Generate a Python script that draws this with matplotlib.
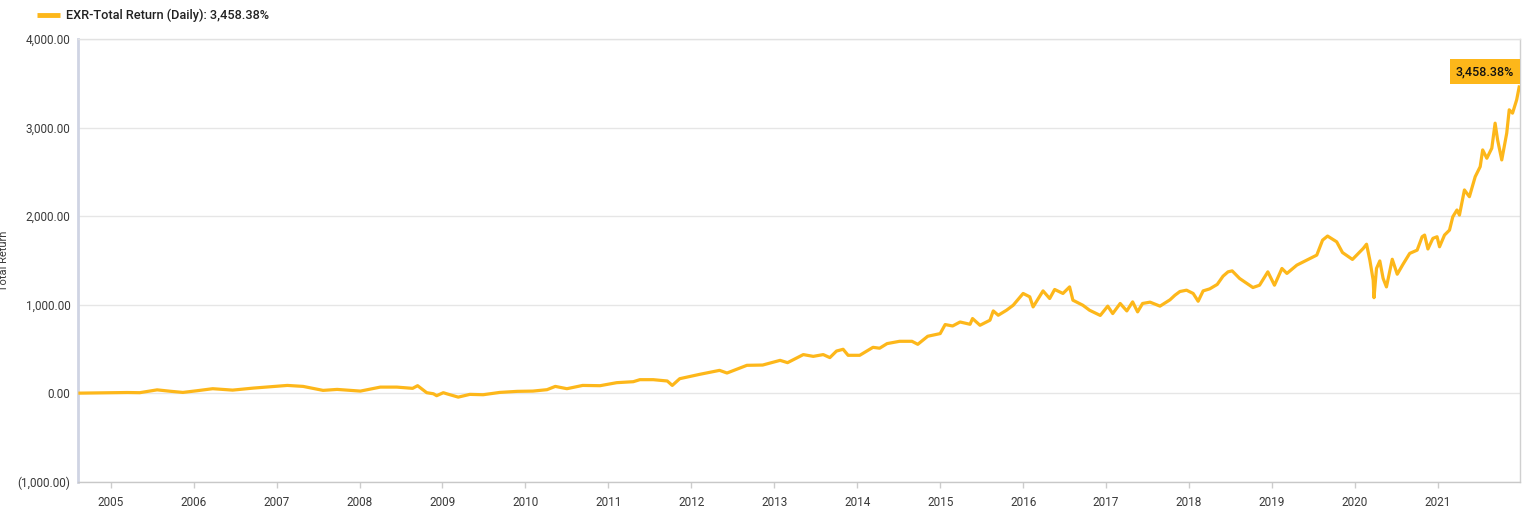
import matplotlib
matplotlib.use("Agg")
import matplotlib.pyplot as plt
import numpy as np

# ---- data (decimal year, total return %) ----
years = [
    2004.63, 2004.81, 2005.03, 2005.20, 2005.35, 2005.56, 2005.71, 2005.87,
    2006.04, 2006.23, 2006.47, 2006.72, 2006.92, 2007.13, 2007.32, 2007.56,
    2007.73, 2008.01, 2008.25, 2008.45, 2008.64, 2008.70, 2008.81, 2008.89,
    2008.93, 2009.01, 2009.05, 2009.19, 2009.33, 2009.49, 2009.69, 2009.90,
    2010.09, 2010.26, 2010.36, 2010.50, 2010.69, 2010.90, 2011.10, 2011.30,
    2011.38, 2011.54, 2011.71, 2011.77, 2011.86, 2012.10, 2012.34, 2012.43,
    2012.67, 2012.86, 2013.07, 2013.16, 2013.35, 2013.47, 2013.59, 2013.67,
    2013.75, 2013.83, 2013.89, 2014.03, 2014.19, 2014.27, 2014.36, 2014.51,
    2014.66, 2014.73, 2014.85, 2015.00, 2015.06, 2015.15, 2015.24, 2015.36,
    2015.39, 2015.48, 2015.60, 2015.64, 2015.70, 2015.80, 2015.88, 2016.00,
    2016.08, 2016.12, 2016.24, 2016.32, 2016.38, 2016.48, 2016.56, 2016.60,
    2016.72, 2016.80, 2016.93, 2017.02, 2017.08, 2017.17, 2017.25, 2017.32,
    2017.38, 2017.44, 2017.53, 2017.65, 2017.77, 2017.83, 2017.89, 2017.97,
    2018.05, 2018.11, 2018.17, 2018.25, 2018.34, 2018.41, 2018.47, 2018.52,
    2018.61, 2018.73, 2018.77, 2018.85, 2018.95, 2019.03, 2019.12, 2019.18,
    2019.30, 2019.42, 2019.54, 2019.61, 2019.67, 2019.78, 2019.85, 2019.97,
    2020.06, 2020.10, 2020.14, 2020.18, 2020.22, 2020.23, 2020.26, 2020.30,
    2020.34, 2020.38, 2020.45, 2020.51, 2020.58, 2020.66, 2020.75, 2020.81,
    2020.84, 2020.88, 2020.94, 2020.99, 2021.02, 2021.08, 2021.14, 2021.18,
    2021.23, 2021.26, 2021.32, 2021.38, 2021.45, 2021.51, 2021.54, 2021.59,
    2021.65, 2021.69, 2021.72, 2021.77, 2021.80, 2021.83, 2021.86, 2021.90,
    2021.95, 2021.98,
]
total_return = [
    3, 5, 8, 10, 8, 40, 25, 11,
    30, 53, 37, 60, 75, 90, 79, 34,
    45, 26, 71, 71, 57, 87, 8, -4,
    -26, 8, -4, -42, -11, -15, 11, 23,
    26, 42, 79, 53, 90, 87, 121, 132,
    155, 155, 140, 90, 166, 215, 260, 230,
    317, 320, 373, 347, 438, 418, 438, 404,
    478, 498, 430, 430, 520, 510, 562, 588,
    588, 554, 645, 675, 777, 761, 806, 780,
    845, 769, 826, 931, 882, 939, 995, 1128,
    1090, 976, 1157, 1071, 1173, 1128, 1202, 1052,
    995, 939, 880, 985, 901, 1015, 931, 1033,
    920, 1015, 1030, 985, 1056, 1108, 1150, 1165,
    1128, 1040, 1157, 1180, 1230, 1323, 1372, 1383,
    1297, 1221, 1195, 1221, 1372, 1221, 1410, 1354,
    1448, 1504, 1561, 1730, 1776, 1711, 1590, 1512,
    1598, 1636, 1684, 1504, 1278, 1080, 1410, 1495,
    1297, 1202, 1514, 1345, 1458, 1580, 1617, 1768,
    1787, 1630, 1750, 1768, 1655, 1787, 1843, 1994,
    2070, 2013, 2296, 2220, 2446, 2559, 2748, 2654,
    2767, 3050, 2861, 2635, 2786, 2937, 3201, 3163,
    3314, 3458.38,
]

series_name = "EXR-Total Return (Daily)"
last_label = "3,458.38%"
x_ticks = list(range(2005, 2022))
y_ticks = [-1000, 0, 1000, 2000, 3000, 4000]
y_tick_labels = ["(1,000.00)", "0.00", "1,000.00", "2,000.00", "3,000.00", "4,000.00"]

LINE = "#FDB71A"
TXT = "#3a3a3a"

plt.rcParams['font.family'] = ['Roboto', 'DejaVu Sans']

fig = plt.figure(figsize=(15.25, 5.13), dpi=100)
ax = fig.add_axes([78/1525, 1 - 482/513, (1520-78)/1525, (482-39)/513])

ax.plot(years, total_return, color=LINE, lw=2.3, solid_joinstyle='round', zorder=3)

ax.set_xlim(2004.606, 2021.99)
ax.set_ylim(-1000, 4000)

ax.set_yticks(y_ticks)
ax.set_yticklabels(y_tick_labels)
ax.set_xticks(x_ticks)
ax.set_xticklabels([str(y) for y in x_ticks])

ax.tick_params(axis='y', length=0, pad=5.5, labelsize=8.5, labelcolor=TXT)
ax.tick_params(axis='x', length=4, width=1, color='#cccccc', pad=6,
               labelsize=8.5, labelcolor=TXT)

ax.grid(axis='y', color='#e6e6e6', lw=1, zorder=0)
ax.set_axisbelow(True)

ax.spines['left'].set_color('#cfd4e3')
ax.spines['left'].set_linewidth(2)
ax.spines['bottom'].set_color('#c8c8c8')
ax.spines['bottom'].set_linewidth(1)
ax.spines['top'].set_color('#e2e2e2')
ax.spines['top'].set_linewidth(1)
ax.spines['right'].set_color('#d0d0d0')
ax.spines['right'].set_linewidth(1)

# last value label
ax.annotate(last_label, xy=(1.0, total_return[-1]),
            xycoords=('axes fraction', 'data'),
            xytext=(-6, 9), textcoords='offset pixels',
            ha='right', va='bottom', fontsize=9, color='#111111',
            fontweight='medium',
            bbox=dict(boxstyle='square,pad=0.5', fc=LINE, ec='none'),
            zorder=5)

# legend
fig.add_artist(plt.Line2D([37/1525, 60/1525], [1 - 15/513, 1 - 15/513],
                          color=LINE, lw=3.5, solid_capstyle='butt'))
fig.text(66/1525, 1 - 15/513, f"{series_name}: {last_label}",
         ha='left', va='center', fontsize=9.2, color='#222222', fontweight='medium')

# y-axis title (partially clipped at the left edge like the reference)
fig.text(4/1525, 0.5 * ((1 - 482/513) + (1 - 39/513)), "Total Return",
         rotation=90, ha='center', va='center', fontsize=8, color=TXT)

fig.savefig("out.png", dpi=100)
